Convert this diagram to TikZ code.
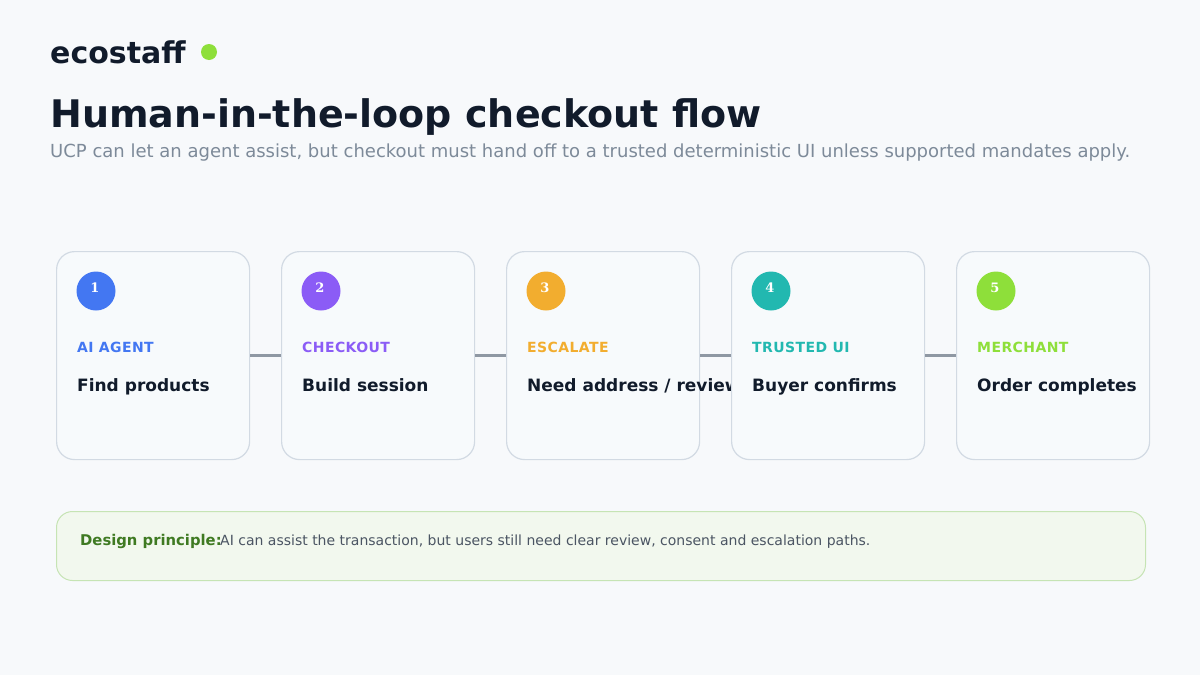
\documentclass[tikz,border=0pt]{standalone}
\usepackage{fontspec}
\setmainfont{DejaVu Sans}
\newfontfamily\numfont{DejaVu Serif}
\newfontfamily\lblfont[LetterSpace=3]{DejaVu Sans}
\definecolor{bg}{HTML}{F7F9FB}
\definecolor{cardfill}{HTML}{F7FAFC}
\definecolor{cardline}{HTML}{D2DAE3}
\definecolor{ink}{HTML}{111B2B}
\definecolor{sub}{HTML}{7D8A99}
\definecolor{conn}{HTML}{8F98A3}
\definecolor{cblue}{HTML}{4377F2}
\definecolor{cpurple}{HTML}{8B5CF6}
\definecolor{corange}{HTML}{F2AD2F}
\definecolor{cteal}{HTML}{22B8B0}
\definecolor{cgreen}{HTML}{8EDF3A}
\definecolor{notefill}{HTML}{F2F8EE}
\definecolor{noteline}{HTML}{C6E4B4}
\definecolor{notehead}{HTML}{3F7A22}
\definecolor{notetext}{HTML}{4B5563}
\begin{document}
\begin{tikzpicture}[x=1pt,y=-1pt,
  card/.style={draw=cardline,line width=1.2pt,fill=cardfill,rounded corners=18pt,minimum width=193pt,minimum height=208pt,anchor=north west,inner sep=0pt},
  badge/.style={circle,minimum size=39pt,inner sep=0pt},
  badgenum/.style={text=white,font=\numfont\bfseries\fontsize{13}{15}\selectfont,anchor=base,inner sep=0pt},
  lbl/.style={font=\lblfont\bfseries\fontsize{14}{16}\selectfont,anchor=base west,inner sep=0pt},
  head/.style={text=ink,font=\bfseries\fontsize{17}{20}\selectfont,anchor=base west,inner sep=0pt},
  connector/.style={draw=conn,line width=3pt}
]
\useasboundingbox (0,0) rectangle (1200,675);
\fill[bg] (0,0) rectangle (1200,675);
\node[anchor=base west,inner sep=0pt,text=ink,font=\bfseries\fontsize{30}{34}\selectfont] (brand) at (50,63) {ecostaff};
\node[circle,fill=cgreen,minimum size=16pt,inner sep=0pt] (dot) at (209,52) {};
\node[anchor=base west,inner sep=0pt,text=ink,font=\bfseries\fontsize{38}{44}\selectfont] (title) at (50,127) {Human-in-the-loop checkout flow};
\node[anchor=base west,inner sep=0pt,text=sub,font=\fontsize{18}{22}\selectfont] (subtitle) at (50,157) {UCP can let an agent assist, but checkout must hand off to a trusted deterministic UI unless supported mandates apply.};
% cards
\foreach \i/\x/\col/\lab/\txt in {1/56/cblue/{AI AGENT}/{Find products},2/281/cpurple/{CHECKOUT}/{Build session},3/506/corange/{ESCALATE}/{Need address / review},4/731/cteal/{TRUSTED UI}/{Buyer confirms},5/956/cgreen/{MERCHANT}/{Order completes}}{
  \node[card] (card\i) at (\x,251) {};
  \node[badge,fill=\col] (badge\i) at (\x+40,291) {};
  \node[badgenum] (num\i) at (\x+39,292) {\i};
  \node[lbl,text=\col] (lab\i) at (\x+21,352) {\lab};
  \node[head] (txt\i) at (\x+21,391) {\txt};
}
\draw[connector] (card1.east |- 0,355) -- (card2.west |- 0,355);
\draw[connector] (card2.east |- 0,355) -- (card3.west |- 0,355);
\draw[connector] (card3.east |- 0,355) -- (card4.west |- 0,355);
\draw[connector] (card4.east |- 0,355) -- (card5.west |- 0,355);
% note
\node[draw=noteline,line width=1pt,fill=notefill,rounded corners=16pt,minimum width=1089pt,minimum height=69pt,anchor=north west,inner sep=0pt] (note) at (56,511) {};
\node[anchor=base west,inner sep=0pt,text=notehead,font=\bfseries\fontsize{14.8}{17}\selectfont] (notehead) at (80,545) {Design principle:};
\node[anchor=base west,inner sep=0pt,text=notetext,font=\fontsize{14}{16}\selectfont] (notebody) at (220,545) {AI can assist the transaction, but users still need clear review, consent and escalation paths.};
\end{tikzpicture}
\end{document}
